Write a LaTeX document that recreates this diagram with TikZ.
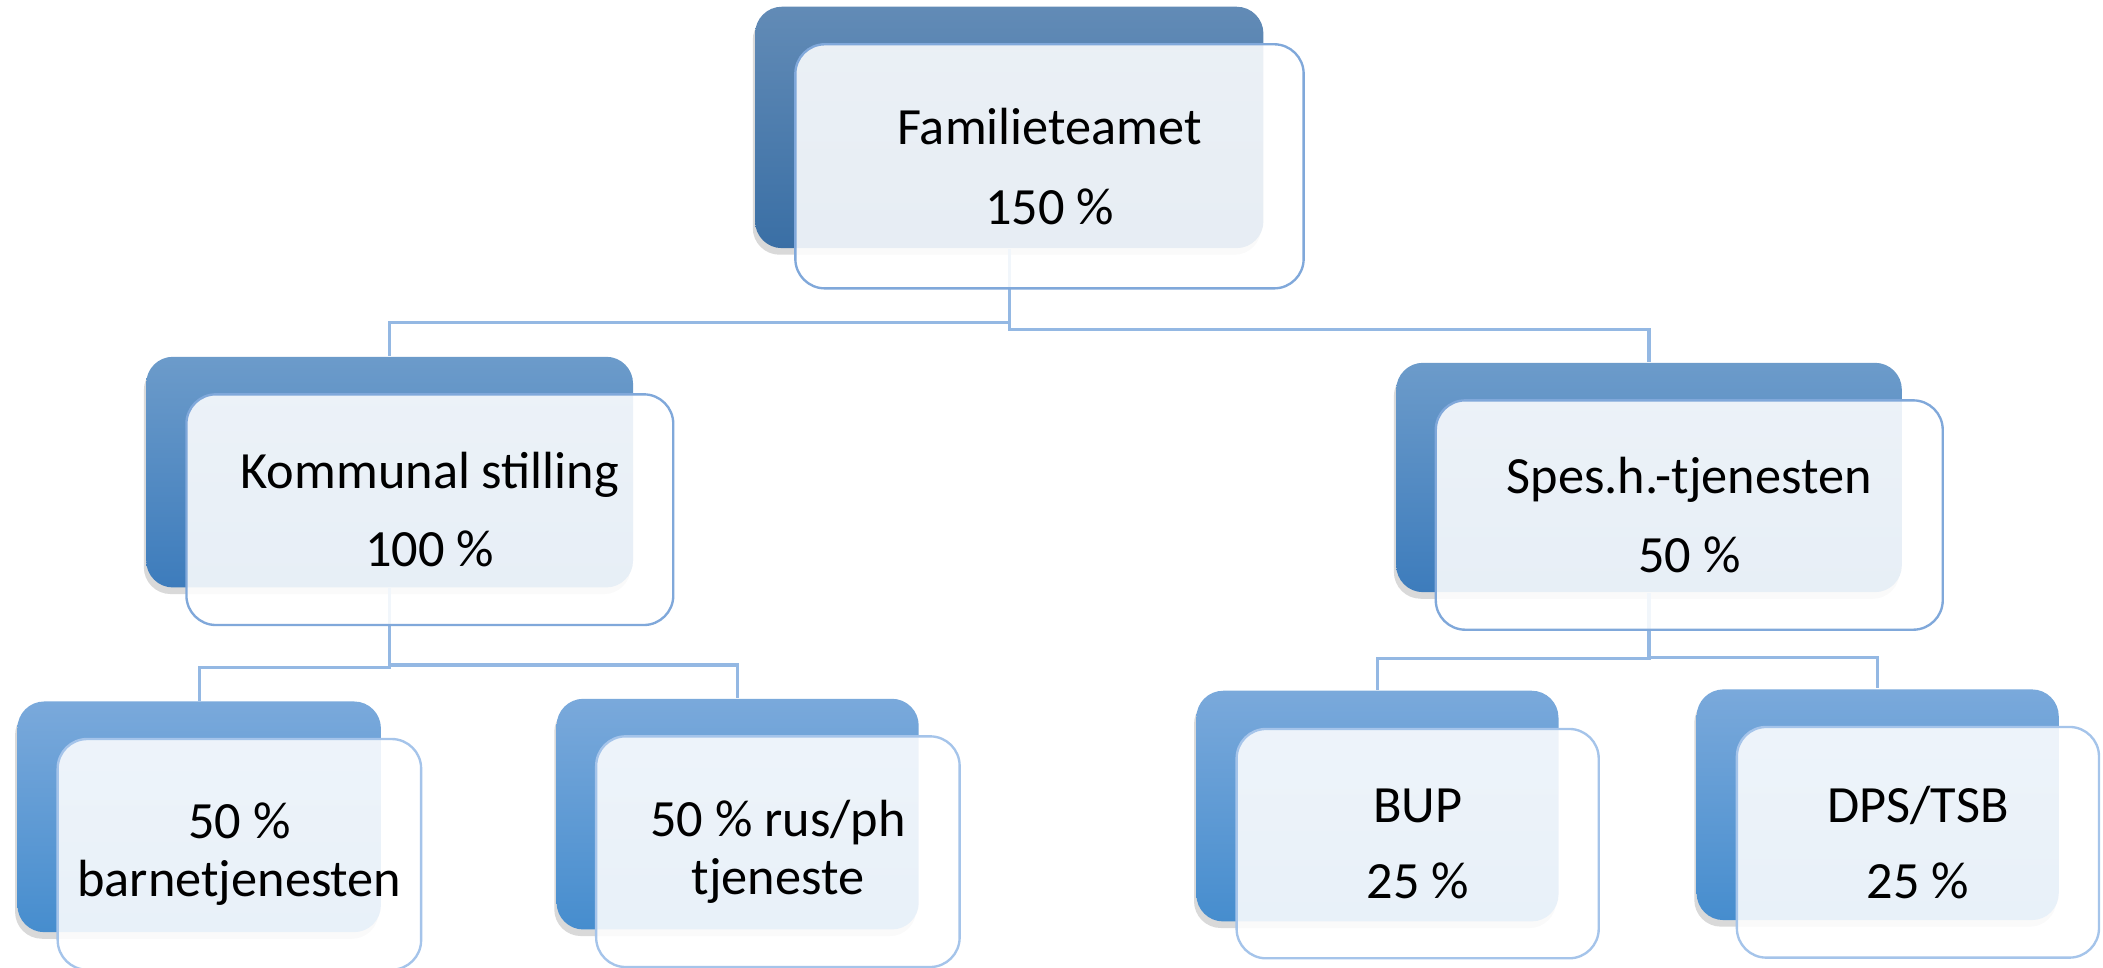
\documentclass[tikz,border=0pt]{standalone}
\usepackage{fontspec}
\setmainfont{Carlito}
\usetikzlibrary{shadows}

\definecolor{topA}{RGB}{98,139,182}
\definecolor{topB}{RGB}{58,111,165}
\definecolor{midA}{RGB}{108,155,202}
\definecolor{midB}{RGB}{61,124,188}
\definecolor{lowA}{RGB}{122,169,219}
\definecolor{lowB}{RGB}{70,141,206}
\definecolor{frameblue}{RGB}{128,168,218}
\definecolor{framelight}{RGB}{165,196,234}
\definecolor{linkblue}{RGB}{148,184,227}

\tikzset{
	backcard/.style={rounded corners=0.2cm, inner sep=0pt,
		drop shadow={shadow xshift=-0.5pt, shadow yshift=-1.4pt, opacity=0.3}},
	shadetop/.style={top color=topA, bottom color=topB},
	shademid/.style={top color=midA, bottom color=midB},
	shadelow/.style={top color=lowA, bottom color=lowB},
	frontcard/.style={draw=frameblue, line width=0.5pt, rounded corners=0.22cm,
		fill=white, fill opacity=0.88, text opacity=1, align=center, inner sep=0pt,
		font=\fontsize{11.1}{12.2}\selectfont},
	lowcard/.style={frontcard, draw=framelight},
	link/.style={draw=linkblue, line width=0.7pt}
}

\begin{document}
\begin{tikzpicture}
	\useasboundingbox (0,0) rectangle (15.68,-7.21);
	% bakre kort
	\node[backcard,shadetop,minimum width=3.79cm,minimum height=1.80cm] (fam-back) at (7.525,-0.95) {};
	\node[backcard,shademid,minimum width=3.63cm,minimum height=1.72cm] (kom-back) at (2.905,-3.52) {};
	\node[backcard,shademid,minimum width=3.77cm,minimum height=1.71cm] (spes-back) at (12.295,-3.56) {};
	\node[backcard,shadelow,minimum width=2.71cm,minimum height=1.72cm] (barne-back) at (1.485,-6.09) {};
	\node[backcard,shadelow,minimum width=2.70cm,minimum height=1.72cm] (rus-back) at (5.50,-6.07) {};
	\node[backcard,shadelow,minimum width=2.70cm,minimum height=1.72cm] (bup-back) at (10.27,-6.01) {};
	\node[backcard,shadelow,minimum width=2.70cm,minimum height=1.72cm] (dps-back) at (14.00,-6.00) {};
	% linjer
	\draw[link] (fam-back.south) -- ++(0,-0.55) -| (kom-back.north);
	\draw[link] (fam-back.south) -- ++(0,-0.60) -| (spes-back.north);
	\draw[link] (kom-back.south) -- ++(0,-0.59) -| (barne-back.north);
	\draw[link] (kom-back.south) -- ++(0,-0.57) -| (rus-back.north);
	\draw[link] (spes-back.south) -- ++(0,-0.49) -| (bup-back.north);
	\draw[link] (spes-back.south) -- ++(0,-0.48) -| (dps-back.north);
	% fremre kort
	\node[frontcard,minimum width=3.79cm,minimum height=1.82cm] (fam) at ([shift={(0.30,-0.29)}]fam-back) {Familieteamet\\[4.8pt]150 \%};
	\node[frontcard,minimum width=3.63cm,minimum height=1.72cm] (kom) at ([shift={(0.30,-0.28)}]kom-back) {Kommunal stilling\\[4.4pt]100 \%};
	\node[frontcard,minimum width=3.78cm,minimum height=1.71cm] (spes) at ([shift={(0.30,-0.28)}]spes-back) {Spes.h.-tjenesten\\[4.4pt]50 \%};
	\node[lowcard,minimum width=2.71cm,minimum height=1.72cm] (barne) at ([shift={(0.30,-0.28)}]barne-back) {50 \%\\barnetjenesten};
	\node[lowcard,minimum width=2.71cm,minimum height=1.72cm] (rus) at ([shift={(0.30,-0.28)}]rus-back) {50 \% rus/ph\\tjeneste};
	\node[lowcard,minimum width=2.70cm,minimum height=1.71cm] (bup) at ([shift={(0.30,-0.28)}]bup-back) {BUP\\[4pt]25 \%};
	\node[lowcard,minimum width=2.70cm,minimum height=1.72cm] (dps) at ([shift={(0.30,-0.28)}]dps-back) {DPS/TSB\\[4pt]25 \%};
\end{tikzpicture}
\end{document}
